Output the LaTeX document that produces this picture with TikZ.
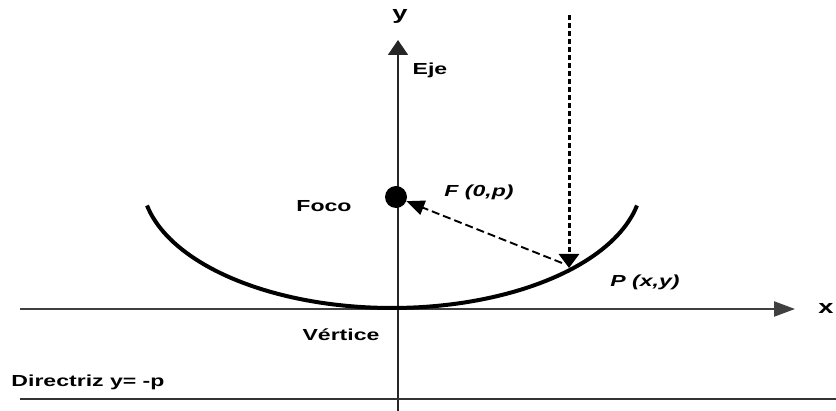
\documentclass[tikz,border=0pt]{standalone}
\usepackage{fontspec}
\setmainfont{Liberation Sans}
\usetikzlibrary{arrows.meta}
\newcommand{\sx}[1]{\scalebox{1.44}[1]{#1}}
\begin{document}
\begin{tikzpicture}[x=1pt,y=-1pt,
  lbl/.style={anchor=base, inner sep=0pt, font=\fontsize{16}{19}\selectfont\bfseries},
  axlbl/.style={anchor=base, inner sep=0pt, font=\fontsize{19}{22}\selectfont\bfseries},
  ilbl/.style={anchor=base, inner sep=0pt, font=\fontsize{16}{19}\selectfont\bfseries\itshape},
  axis/.style={line width=1.7pt, draw=black!85},
  dotarrow/.style={line width=3pt, dash pattern=on 5pt off 3pt, -{Triangle[width=20pt,length=14pt]}},
  dasharrow/.style={line width=1.9pt, dash pattern=on 8pt off 4pt, -{Triangle[width=15pt,length=18pt]}}
]
\useasboundingbox (0,0) rectangle (836,411);
% coordinates
\coordinate (ybot) at (398,411);
\coordinate (ytop) at (398,40);
\coordinate (xl) at (20,309);
\coordinate (xr) at (795,309);
\coordinate (dl) at (20,399);
\coordinate (dr) at (836,399);
\coordinate (top) at (569,15);
\coordinate (Pd) at (569,268);
\coordinate (Pt) at (562,263);
% axes
\draw[axis, -{Triangle[width=20pt,length=15pt]}] (ybot) -- (ytop);
\draw[axis, line width=2.2pt, draw=black!75, -{Triangle[width=15pt,length=21pt]}] (xl) -- (xr);
\draw[line width=2.2pt, draw=black!80] (dl) -- (dr);
% parabola
\draw[line width=4pt] plot[domain=191.5:348.5, samples=90] ({392+250*cos(\x)}, {180-128*sin(\x)});
% focus
\node[circle, fill=black, minimum size=22pt, inner sep=0pt] (F) at (396,197) {};
% rays
\draw[dotarrow] (top) -- (Pd);
\draw[dasharrow] (Pt) -- (F);
% labels
\node[axlbl] (ylab) at (400,20) {\sx{y}};
\node[axlbl] (xlab) at (826,314) {\sx{x}};
\node[lbl] (eje) at (430,75) {\sx{Eje}};
\node[lbl] (foco) at (324,212) {\sx{Foco}};
\node[ilbl] (flab) at (479,197) {\sx{F (0,p)}};
\node[ilbl] (plab) at (645,287) {\sx{P (x,y)}};
\node[lbl] (vert) at (341,341) {\sx{Vértice}};
\node[lbl] (dir) at (88,387) {\sx{Directriz y= -p}};
\end{tikzpicture}
\end{document}
